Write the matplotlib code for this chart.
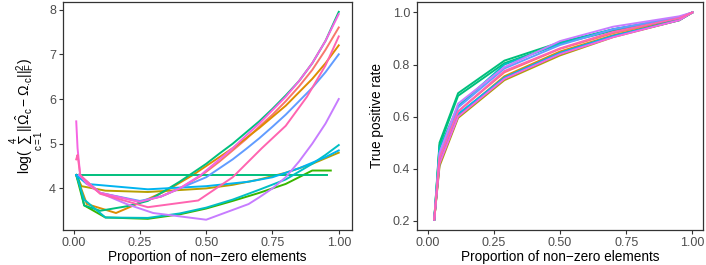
import numpy as np
import matplotlib
matplotlib.use("Agg")
import matplotlib.pyplot as plt

plt.rcParams['font.family'] = ['Liberation Sans', 'DejaVu Sans']
plt.rcParams['mathtext.fontset'] = 'custom'
plt.rcParams['mathtext.rm'] = 'Liberation Sans'
plt.rcParams['mathtext.it'] = 'Liberation Sans'
plt.rcParams['mathtext.sf'] = 'Liberation Sans'

# ggplot-like hue colours, one per group
colors = ['#F8766D', '#DE8C00', '#B79F00', '#39B600', '#00BF7D', '#00BF7D',
          '#00BFC4', '#00B4F0', '#619CFF', '#C77CFF', '#F564E3', '#FF64B0']

# left panel: estimation error vs sparsity
err_x = [
    [0.02, 0.1, 0.25, 0.33, 0.4, 0.48, 0.55, 0.6, 0.65, 0.7, 0.75, 0.8, 0.85, 0.9, 0.95, 1.0],
    [0.01, 0.05, 0.16, 0.25, 0.35, 0.45, 0.5, 0.55, 0.6, 0.65, 0.7, 0.75, 0.8, 0.85, 0.9, 0.95, 1.0],
    [0.01, 0.03, 0.12, 0.28, 0.5, 0.6, 0.7, 0.8, 0.9, 1.0],
    [0.01, 0.04, 0.12, 0.28, 0.4, 0.5, 0.6, 0.7, 0.8, 0.9, 0.97],
    [0.015, 0.04, 0.1, 0.2, 0.28, 0.35, 0.4, 0.45, 0.5, 0.55, 0.6, 0.65, 0.7, 0.75, 0.8, 0.85, 0.9, 0.95, 1.0],
    [0.01, 0.955],
    [0.01, 0.04, 0.12, 0.28, 0.4, 0.5, 0.6, 0.7, 0.8, 0.9, 0.95, 1.0],
    [0.01, 0.05, 0.28, 0.5, 0.66, 0.75, 0.85, 0.95, 1.0],
    [0.02, 0.1, 0.25, 0.33, 0.4, 0.5, 0.55, 0.6, 0.65, 0.7, 0.75, 0.8, 0.85, 0.9, 0.95, 1.0],
    [0.02, 0.1, 0.2, 0.3, 0.5, 0.66, 0.7, 0.75, 0.8, 0.85, 0.9, 0.95, 1.0],
    [0.01, 0.015, 0.025, 0.05, 0.1, 0.25, 0.33, 0.4, 0.48, 0.55, 0.6, 0.65, 0.7, 0.75, 0.8, 0.85, 0.9, 0.95, 1.0],
    [0.01, 0.015, 0.025, 0.1, 0.28, 0.47, 0.6, 0.71, 0.8, 0.88, 0.95, 1.0],
]
err_y = [
    [4.3, 3.9, 3.7, 3.82, 4.0, 4.28, 4.6, 4.85, 5.1, 5.38, 5.65, 5.95, 6.28, 6.65, 7.1, 7.6],
    [4.3, 3.65, 3.45, 3.68, 3.95, 4.3, 4.5, 4.7, 4.9, 5.12, 5.35, 5.6, 5.85, 6.15, 6.45, 6.8, 7.2],
    [4.3, 4.05, 3.95, 3.92, 4.0, 4.08, 4.2, 4.35, 4.55, 4.8],
    [4.3, 3.62, 3.35, 3.32, 3.42, 3.55, 3.72, 3.9, 4.1, 4.4, 4.4],
    [4.3, 3.62, 3.5, 3.6, 3.72, 3.97, 4.15, 4.35, 4.55, 4.78, 5.0, 5.25, 5.5, 5.78, 6.08, 6.4, 6.8, 7.3, 7.95],
    [4.3, 4.3],
    [4.3, 3.75, 3.35, 3.34, 3.44, 3.57, 3.75, 3.97, 4.2, 4.55, 4.75, 4.97],
    [4.3, 4.1, 3.98, 4.05, 4.15, 4.25, 4.45, 4.7, 4.85],
    [4.3, 3.9, 3.72, 3.82, 4.0, 4.25, 4.45, 4.65, 4.88, 5.12, 5.38, 5.65, 5.95, 6.25, 6.6, 7.0],
    [4.3, 3.9, 3.65, 3.45, 3.3, 3.65, 3.8, 4.0, 4.25, 4.6, 5.0, 5.45, 6.0],
    [5.5, 4.9, 4.3, 4.1, 3.9, 3.7, 3.82, 4.0, 4.3, 4.65, 4.9, 5.18, 5.45, 5.75, 6.05, 6.4, 6.8, 7.3, 7.9],
    [4.65, 4.75, 4.3, 3.88, 3.58, 3.73, 4.25, 4.9, 5.4, 6.05, 6.75, 7.4],
]

# right panel: true positive rate vs sparsity
tpr_x = [0.025, 0.045, 0.115, 0.29, 0.5, 0.7, 0.95, 1.0]
tpr_y = [
    [0.205, 0.44, 0.62, 0.77, 0.86, 0.92, 0.975, 1.0],
    [0.205, 0.43, 0.605, 0.755, 0.85, 0.912, 0.972, 1.0],
    [0.205, 0.41, 0.595, 0.74, 0.835, 0.905, 0.97, 1.0],
    [0.205, 0.42, 0.60, 0.745, 0.84, 0.908, 0.97, 1.0],
    [0.205, 0.5, 0.69, 0.815, 0.885, 0.935, 0.98, 1.0],
    [0.205, 0.49, 0.68, 0.805, 0.88, 0.93, 0.975, 1.0],
    [0.205, 0.48, 0.64, 0.80, 0.88, 0.935, 0.98, 1.0],
    [0.205, 0.43, 0.61, 0.75, 0.845, 0.91, 0.97, 1.0],
    [0.205, 0.46, 0.635, 0.785, 0.875, 0.935, 0.982, 1.0],
    [0.205, 0.46, 0.65, 0.79, 0.89, 0.945, 0.985, 1.0],
    [0.205, 0.42, 0.60, 0.745, 0.84, 0.905, 0.97, 1.0],
    [0.205, 0.44, 0.62, 0.775, 0.862, 0.925, 0.978, 1.0],
]

fig = plt.figure(figsize=(7.06, 2.65), dpi=100)
ax1 = fig.add_axes([0.0892, 0.1321, 0.4094, 0.8604])
ax2 = fig.add_axes([0.5907, 0.1321, 0.4051, 0.8604])

for i in range(len(err_x)):
    ax1.plot(err_x[i], err_y[i], color=colors[i], lw=1.4, solid_joinstyle='round')
for i in range(len(tpr_y)):
    ax2.plot(tpr_x, tpr_y[i], color=colors[i], lw=1.4, solid_joinstyle='round')

ax1.set_xlim(-0.04, 1.05)
ax1.set_ylim(3.07, 8.17)
ax1.set_yticks([4, 5, 6, 7, 8])
ax2.set_xlim(-0.04, 1.04)
ax2.set_ylim(0.165, 1.04)
ax2.set_yticks([0.2, 0.4, 0.6, 0.8, 1.0])

for ax in (ax1, ax2):
    ax.set_xticks([0, 0.25, 0.5, 0.75, 1.0])
    ax.set_xticklabels(['0.00', '0.25', '0.50', '0.75', '1.00'])
    ax.tick_params(direction='out', length=3, width=0.8, color='#333333',
                   labelcolor='#4D4D4D', labelsize=9, pad=2)
    for s in ax.spines.values():
        s.set_color('#333333')
        s.set_linewidth(0.9)
    ax.set_xlabel('Proportion of non\u2212zero elements', fontsize=9.8, labelpad=1)

ax2.set_yticklabels(['0.2', '0.4', '0.6', '0.8', '1.0'])
ax1.set_ylabel(r'$\log(\sum_{c=1}^{4}||\hat{\Omega}_{c}-\Omega_{\cdot c}||_F^2)$',
               fontsize=10, labelpad=2)
ax2.set_ylabel('True positive rate', fontsize=9.8, labelpad=6)

fig.savefig('out.png', dpi=100)
